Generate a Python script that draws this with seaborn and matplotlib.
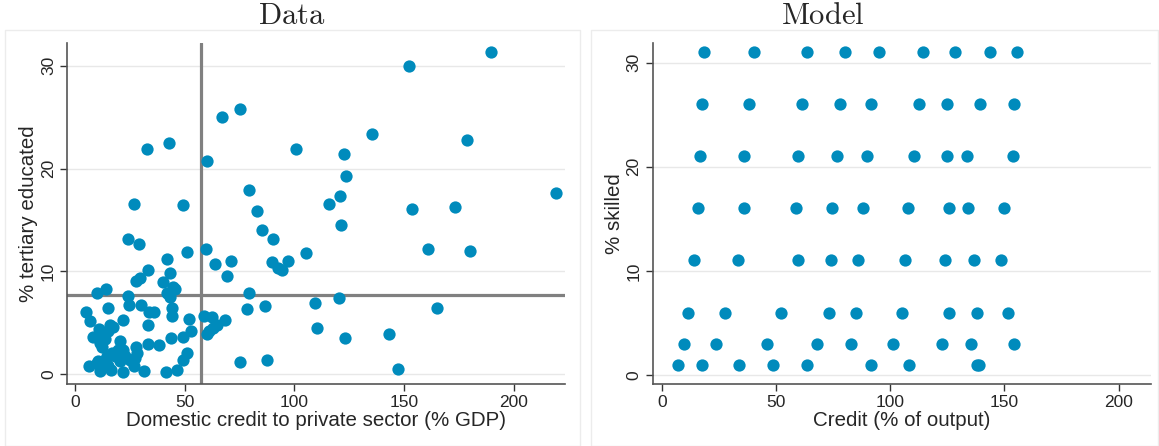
import numpy as np
import pandas as pd
import matplotlib
matplotlib.use("Agg")
import matplotlib.pyplot as plt
import seaborn as sns
from matplotlib.patches import Rectangle

# ---- data ----
credit = [32.7, 42.9, 67.2, 75.4, 101.0, 60.2, 26.9, 49.4, 79.3, 82.8, 85.4, 152.3, 189.7,
          135.4, 178.9, 122.7, 123.7, 121.0, 115.8, 121.4, 153.5, 173.3, 219.2, 105.2, 160.8,
          180.3, 109.6, 120.4, 165.2, 110.5, 123.3, 143.3, 147.4,
          90.1, 24.3, 29.0, 51.2, 59.7, 41.8, 63.8, 71.1, 89.8, 92.7, 94.5, 97.3, 69.3, 33.4,
          29.6, 27.8, 43.3, 40.3, 44.8, 45.6, 41.8, 43.3, 14.1, 9.9, 24.3, 24.8, 30.0, 15.2,
          5.0, 33.9, 36.2, 44.1, 44.2, 6.8, 21.9, 52.1, 58.8, 62.3, 68.4, 64.6, 63.1, 61.3,
          60.0, 78.4, 86.5, 79.3, 33.4, 16.0, 17.5, 11.1, 8.3, 12.6, 11.4, 20.5, 33.4, 38.5,
          27.8, 43.6, 52.8, 49.4, 50.9, 49.1, 46.6, 41.4, 75.2, 87.4, 31.6, 22.0, 26.9, 16.3,
          11.4, 6.4, 9.9, 12.9, 14.5, 16.7, 19.7, 22.8, 25.2, 28.1, 27.4, 14.5, 12.2, 13.7,
          15.2, 22.0, 18.2, 20.5, 15.2, 10.6]
tertiary = [21.9, 22.5, 25.0, 25.8, 21.9, 20.7, 16.6, 16.5, 17.9, 15.9, 14.0, 30.0, 31.3,
            23.4, 22.8, 21.4, 19.3, 17.3, 16.6, 14.5, 16.1, 16.3, 17.6, 11.8, 12.2,
            12.0, 6.9, 7.45, 6.5, 4.5, 3.5, 3.9, 0.55,
            13.2, 13.2, 12.7, 11.9, 12.2, 11.2, 10.7, 11.05, 10.9, 10.3, 10.1, 11.05, 9.6, 10.1,
            9.4, 9.1, 9.85, 9.0, 8.5, 8.3, 7.9, 7.5, 8.3, 7.9, 7.65, 6.7, 6.7, 6.45,
            6.1, 6.1, 6.05, 6.5, 5.7, 5.15, 5.25, 5.4, 5.7, 5.6, 5.25, 4.8, 4.5, 4.2,
            3.9, 6.35, 6.6, 7.9, 4.8, 4.8, 4.6, 4.4, 3.6, 3.9, 3.05, 3.2, 3.0, 2.9,
            2.7, 3.5, 4.2, 3.6, 2.1, 1.4, 0.4, 0.2, 1.2, 1.4, 0.35, 0.2, 0.8, 0.45,
            0.3, 0.8, 1.1, 1.3, 0.95, 2.1, 2.4, 1.75, 1.4, 2.1, 1.6, 1.75, 2.7, 3.4,
            4.2, 2.4, 1.75, 1.3, 0.8, 1.3]

# model: skill levels and the credit values on each level
skill_levels = [31, 26, 21, 16, 11, 6, 3, 1]
model_credit = [
    [18.4, 40.3, 63.5, 80.2, 95.1, 114.1, 128.3, 143.6, 155.6],
    [17.4, 38.1, 61.3, 77.8, 91.7, 112.6, 124.8, 139.4, 154.2],
    [16.6, 35.9, 59.7, 76.8, 89.9, 110.5, 125.0, 133.6, 153.9],
    [15.6, 35.9, 58.8, 74.3, 88.2, 107.9, 125.6, 134.0, 149.8],
    [13.9, 33.4, 59.7, 74.0, 86.0, 106.3, 124.0, 136.7, 148.5],
    [11.4, 27.7, 52.0, 73.0, 85.1, 104.9, 125.9, 138.1, 151.4],
    [9.5, 23.5, 45.9, 67.8, 82.7, 101.2, 122.6, 135.3, 154.3],
    [7.1, 17.5, 33.6, 48.8, 63.5, 91.5, 108.0, 137.9, 138.8],
]
ref_credit = 57.3
ref_tertiary = 7.75

data_df = pd.DataFrame({"credit": credit, "tertiary": tertiary})
model_df = pd.DataFrame(
    [(c, s) for s, row in zip(skill_levels, model_credit) for c in row],
    columns=["credit", "skilled"])

# ---- style ----
sns.set_style("white")
plt.rcParams["font.family"] = ["Liberation Sans", "DejaVu Sans"]
plt.rcParams["mathtext.fontset"] = "cm"

blue = "#008bbc"
W, H = 1159, 446
fig = plt.figure(figsize=(W / 100, H / 100), dpi=100)

# panel frames
for x0, x1 in [(5, 580), (591, 1158)]:
    fig.patches.append(Rectangle((x0 / W, 0), (x1 - x0) / W, 1 - 30 / H,
                                 transform=fig.transFigure, fill=False,
                                 edgecolor="#ececec", linewidth=1))

ax1 = fig.add_axes([67 / W, 1 - 384 / H, 498 / W, 341 / H])
ax2 = fig.add_axes([652.7 / W, 1 - 384 / H, 498.3 / W, 341 / H])

ax1.axvline(ref_credit, color="#808080", lw=2.3, zorder=1)
ax1.axhline(ref_tertiary, color="#808080", lw=2.3, zorder=1)
sns.scatterplot(data=data_df, x="credit", y="tertiary", ax=ax1, color=blue,
                s=78, linewidth=0, zorder=3)
sns.scatterplot(data=model_df, x="credit", y="skilled", ax=ax2, color=blue,
                s=78, linewidth=0, zorder=3)

ax1.set_xlim(-3.6, 223.4)
ax1.set_ylim(-0.93, 32.2)
ax2.set_xlim(-4.1, 214.2)
ax2.set_ylim(-0.87, 31.9)

for ax, xl, yl in [(ax1, "Domestic credit to private sector (% GDP)", "% tertiary educated"),
                   (ax2, "Credit (% of output)", "% skilled")]:
    ax.set_xticks([0, 50, 100, 150, 200])
    ax.set_yticks([0, 10, 20, 30])
    ax.yaxis.grid(True, color="#e8e8e8", lw=1, zorder=0)
    ax.set_axisbelow(True)
    for side in ["top", "right"]:
        ax.spines[side].set_visible(False)
    for side in ["left", "bottom"]:
        ax.spines[side].set_color("#555555")
        ax.spines[side].set_linewidth(1.2)
    ax.tick_params(axis="both", direction="out", length=5, width=1,
                   color="#333333", labelsize=12.5, pad=3, left=True, bottom=True)
    for lab in ax.get_yticklabels():
        lab.set_rotation(90)
        lab.set_va("center")
    ax.set_xlabel(xl, fontsize=14.8, labelpad=1)
    ax.set_ylabel(yl, fontsize=14.8, labelpad=2)

fig.text(292 / W, 1 - 16 / H, r"$\mathrm{Data}$", ha="center", va="center", fontsize=22)
fig.text(823 / W, 1 - 16 / H, r"$\mathrm{Model}$", ha="center", va="center", fontsize=22)

fig.savefig("out.png", dpi=100)
